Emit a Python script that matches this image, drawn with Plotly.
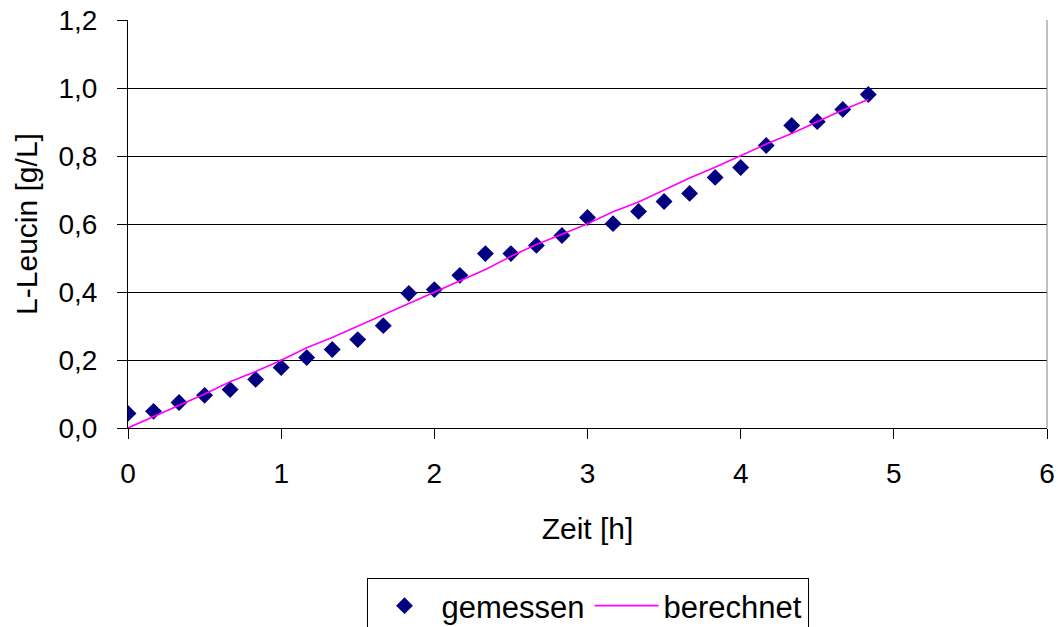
import plotly.graph_objects as go

zeit = [0, 1/6, 2/6, 3/6, 4/6, 5/6, 1, 7/6, 8/6, 9/6, 10/6, 11/6, 2, 13/6, 14/6, 15/6,
        16/6, 17/6, 3, 19/6, 20/6, 21/6, 22/6, 23/6, 4, 25/6, 26/6, 27/6, 28/6, 29/6]
gemessen = [0.043, 0.049, 0.075, 0.096, 0.113, 0.143, 0.178, 0.207, 0.231, 0.260,
            0.301, 0.396, 0.407, 0.449, 0.513, 0.513, 0.537, 0.566, 0.619, 0.601,
            0.637, 0.666, 0.690, 0.737, 0.766, 0.831, 0.890, 0.901, 0.937, 0.981]
berechnet = [0.0, 0.033, 0.067, 0.100, 0.136, 0.166, 0.199, 0.236, 0.266, 0.299,
             0.333, 0.367, 0.400, 0.433, 0.466, 0.505, 0.540, 0.570, 0.601, 0.636,
             0.665, 0.700, 0.735, 0.767, 0.801, 0.835, 0.866, 0.901, 0.935, 0.966]

x_ticks = [0, 1, 2, 3, 4, 5, 6]
y_ticks = [0.0, 0.2, 0.4, 0.6, 0.8, 1.0, 1.2]

FONT = "Arial, Liberation Sans, sans-serif"
TICK_FS = 28
TITLE_FS = 30
LEG_FS = 31

fig = go.Figure()
fig.add_trace(go.Scatter(
    x=zeit, y=gemessen, mode="markers", name="gemessen",
    marker=dict(symbol="diamond", size=13, color="#000080", line=dict(width=0)),
))
fig.add_trace(go.Scatter(
    x=zeit, y=berechnet, mode="lines", name="berechnet",
    line=dict(color="#FF00FF", width=1.6),
))

fig.update_layout(
    width=1058, height=627,
    margin=dict(l=128, r=11, t=20, b=199, autoexpand=False),
    paper_bgcolor="white", plot_bgcolor="white",
    separators=",.",
    font=dict(family=FONT, size=TICK_FS, color="black"),
    showlegend=True,
    legend=dict(
        orientation="h", x=0.5, xanchor="center", y=-0.3676, yanchor="top",
        bordercolor="black", borderwidth=1, bgcolor="white",
        font=dict(family=FONT, size=LEG_FS, color="black"),
        itemwidth=64,
    ),
    shapes=[dict(type="line", xref="paper", yref="paper", x0=1, x1=1, y0=0, y1=1,
                 line=dict(color="#808080", width=1), layer="above")],
)
fig.update_xaxes(
    range=[0, 6], tickvals=x_ticks, ticks="outside", ticklen=10, tickcolor="black",
    showline=True, linecolor="black", linewidth=1, showgrid=False, zeroline=False,
    automargin=False, ticklabelstandoff=10, ticklabeloverflow="allow",
    title=dict(text="Zeit [h]", font=dict(family=FONT, size=TITLE_FS), standoff=30),
    tickfont=dict(family=FONT, size=TICK_FS),
)
fig.update_yaxes(
    range=[0, 1.2], tickvals=y_ticks, tickformat=".1f", ticks="outside", ticklen=10,
    tickcolor="black", showline=True, linecolor="black", linewidth=1,
    showgrid=True, gridcolor="black", gridwidth=1, zeroline=False,
    automargin=False, ticklabelstandoff=14, ticklabeloverflow="allow",
    title=dict(text="L-Leucin [g/L]", font=dict(family=FONT, size=TITLE_FS), standoff=11),
    tickfont=dict(family=FONT, size=TICK_FS),
)

fig.write_html(
    "out.html",
    config={"displayModeBar": False},
    post_script="document.body.style.margin='0';document.body.style.overflow='hidden';",
)
